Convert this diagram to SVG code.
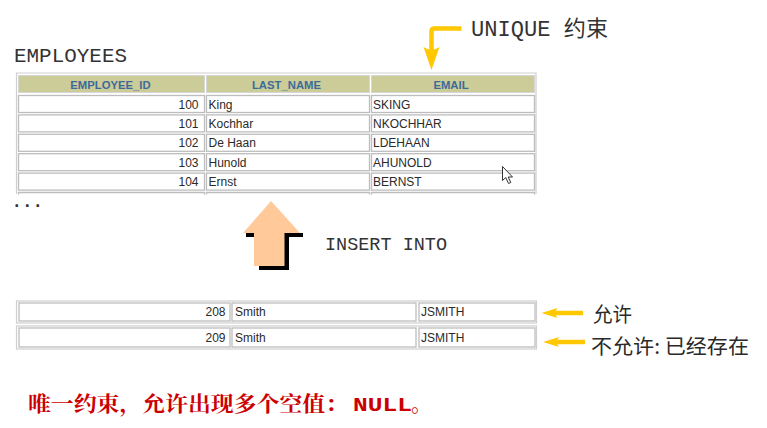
<svg xmlns="http://www.w3.org/2000/svg" width="767" height="428" viewBox="0 0 767 428">
<style>
.cell{fill:#ffffff;stroke:#bdbdbd;stroke-width:1.3}
.hdr{fill:#cccc99;stroke:#d6d6d6;stroke-width:1}
.frame{fill:none;stroke:#cfcfcf;stroke-width:1.2}
.ht{font-family:"Liberation Sans",Arial,sans-serif;font-size:11.3px;font-weight:bold;fill:#3d6b99;text-anchor:middle}
.dt{font-family:"Liberation Sans",Arial,sans-serif;font-size:12px;fill:#2a2a2a}
.num{text-anchor:end}
.mono{font-family:"Liberation Mono","Noto Sans CJK SC",monospace;fill:#333333}
.cjk{font-family:"Noto Sans CJK SC",sans-serif;fill:#2a2a2a}
.yel{fill:none;stroke:#ffc800;stroke-width:4.5}
.yelh{fill:#ffc800}
</style>

<text class="mono" x="14" y="61.5" font-size="21" textLength="113" lengthAdjust="spacingAndGlyphs">EMPLOYEES</text>

<g id="employees-table">
  <path class="frame" d="M16.5,194 V73 H536 V194"/>
  <g id="header">
    <rect class="hdr" x="18.5" y="75.5" width="186" height="17"/>
    <rect class="hdr" x="206.5" y="75.5" width="163" height="17"/>
    <rect class="hdr" x="371.5" y="75.5" width="163" height="17"/>
    <text class="ht" x="110.5" y="89">EMPLOYEE_ID</text>
    <text class="ht" x="286.5" y="89">LAST_NAME</text>
    <text class="ht" x="451" y="89">EMAIL</text>
  </g>
  <g id="row-100">
    <rect class="cell" x="18.5" y="95.5" width="186" height="17"/>
    <rect class="cell" x="206.5" y="95.5" width="163" height="17"/>
    <rect class="cell" x="371.5" y="95.5" width="163" height="17"/>
    <text class="dt num" x="198.5" y="108.7">100</text>
    <text class="dt" x="208.5" y="108.7">King</text>
    <text class="dt" x="373" y="108.7">SKING</text>
  </g>
  <g id="row-101">
    <rect class="cell" x="18.5" y="114.9" width="186" height="17"/>
    <rect class="cell" x="206.5" y="114.9" width="163" height="17"/>
    <rect class="cell" x="371.5" y="114.9" width="163" height="17"/>
    <text class="dt num" x="198.5" y="128">101</text>
    <text class="dt" x="208.5" y="128">Kochhar</text>
    <text class="dt" x="373" y="128">NKOCHHAR</text>
  </g>
  <g id="row-102">
    <rect class="cell" x="18.5" y="134.3" width="186" height="17"/>
    <rect class="cell" x="206.5" y="134.3" width="163" height="17"/>
    <rect class="cell" x="371.5" y="134.3" width="163" height="17"/>
    <text class="dt num" x="198.5" y="147.4">102</text>
    <text class="dt" x="208.5" y="147.4">De Haan</text>
    <text class="dt" x="373" y="147.4">LDEHAAN</text>
  </g>
  <g id="row-103">
    <rect class="cell" x="18.5" y="153.7" width="186" height="17"/>
    <rect class="cell" x="206.5" y="153.7" width="163" height="17"/>
    <rect class="cell" x="371.5" y="153.7" width="163" height="17"/>
    <text class="dt num" x="198.5" y="166.8">103</text>
    <text class="dt" x="208.5" y="166.8">Hunold</text>
    <text class="dt" x="373" y="166.8">AHUNOLD</text>
  </g>
  <g id="row-104">
    <rect class="cell" x="18.5" y="173.1" width="186" height="17"/>
    <rect class="cell" x="206.5" y="173.1" width="163" height="17"/>
    <rect class="cell" x="371.5" y="173.1" width="163" height="17"/>
    <text class="dt num" x="198.5" y="186.2">104</text>
    <text class="dt" x="208.5" y="186.2">Ernst</text>
    <text class="dt" x="373" y="186.2">BERNST</text>
  </g>
  <g id="row-cut" stroke="#bdbdbd" stroke-width="1.3" fill="none">
    <path d="M18.5,194.5 V192.5 H204.5 V194.5"/>
    <path d="M206.5,194.5 V192.5 H369.5 V194.5"/>
    <path d="M371.5,194.5 V192.5 H534.5 V194.5"/>
  </g>
</g>

<text class="mono" x="11.5" y="207" font-size="17.5" font-weight="bold">...</text>

<g id="cursor">
  <path d="M502.5,166.5 V180.5 L505.8,177.5 L508.5,183.5 L510.8,182.5 L508.2,177 L512.5,177 Z" fill="#ffffff" stroke="#333333" stroke-width="1"/>
</g>

<g id="insert-arrow">
  <path d="M246,233 H303 V237 H289 V270 H259 V237 H246 Z" fill="#000000"/>
  <path d="M271,201 L300,233 H284.5 V266 H254 V233 H243 Z" fill="#ffc999"/>
</g>
<text class="mono" x="325" y="250" font-size="19" textLength="122" lengthAdjust="spacingAndGlyphs">INSERT INTO</text>

<g id="new-row-208">
  <rect class="frame" x="16.5" y="301" width="520" height="22"/>
  <rect class="cell" x="19" y="303" width="211" height="18"/>
  <rect class="cell" x="232" y="303" width="184" height="18"/>
  <rect class="cell" x="419" y="303" width="116" height="18"/>
  <text class="dt num" x="225.5" y="315.5">208</text>
  <text class="dt" x="235" y="315.5">Smith</text>
  <text class="dt" x="421" y="315.5">JSMITH</text>
</g>
<g id="new-row-209">
  <rect class="frame" x="16.5" y="326" width="520" height="23"/>
  <rect class="cell" x="19" y="328" width="211" height="19"/>
  <rect class="cell" x="232" y="328" width="184" height="19"/>
  <rect class="cell" x="419" y="328" width="116" height="19"/>
  <text class="dt num" x="225.5" y="341.5">209</text>
  <text class="dt" x="235" y="341.5">Smith</text>
  <text class="dt" x="421" y="341.5">JSMITH</text>
</g>

<g id="connectors">
  <g id="unique-arrow">
    <path class="yel" d="M461.5,28.5 H434.5 Q431.5,28.5 431.5,31.5 V51"/>
    <path class="yelh" d="M431.5,70 L423.5,47 Q431.5,52.5 439.5,47 Z"/>
  </g>
  <g id="allow-arrow">
    <path class="yel" d="M583,313 H553" stroke-width="4"/>
    <path class="yelh" d="M541.5,313 L557.5,308 Q553.5,313 557.5,318 Z"/>
  </g>
  <g id="deny-arrow">
    <path class="yel" d="M585,342 H555" stroke-width="4"/>
    <path class="yelh" d="M543,342 L559,337 Q555,342 559,347 Z"/>
  </g>
</g>

<text class="mono" x="471" y="36" font-size="22" textLength="137" lengthAdjust="spacingAndGlyphs">UNIQUE 约束</text>
<text class="cjk" x="593" y="321.5" font-size="20" textLength="39" lengthAdjust="spacingAndGlyphs">允许</text>
<text class="cjk" x="591" y="353.5" font-size="20.5" textLength="158" lengthAdjust="spacingAndGlyphs">不允许: 已经存在</text>

<text y="410.5" font-weight="bold" fill="#cc0000" font-size="21"><tspan x="28" font-family="Noto Serif CJK SC,Noto Sans CJK SC,serif" textLength="320" lengthAdjust="spacingAndGlyphs">唯一约束，允许出现多个空值：</tspan><tspan x="353" font-family="Liberation Mono,monospace" font-size="20" textLength="59" lengthAdjust="spacingAndGlyphs">NULL</tspan><tspan x="411" font-family="Noto Serif CJK SC,Noto Sans CJK SC,serif">。</tspan></text>
</svg>
